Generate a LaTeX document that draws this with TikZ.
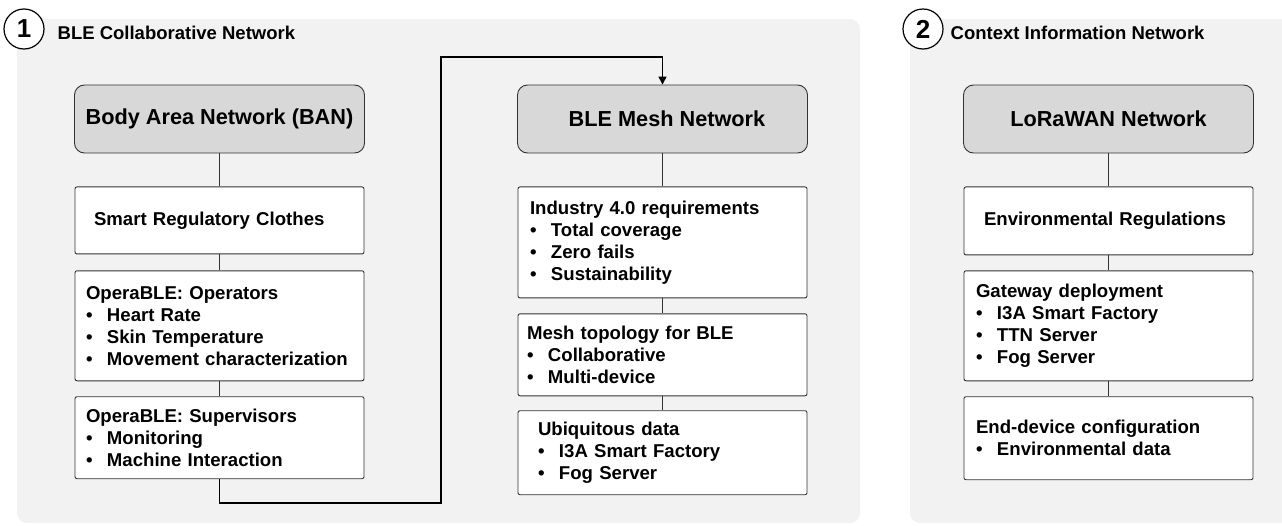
\documentclass[tikz,border=0pt]{standalone}
\usepackage{fontspec}
\setmainfont{Liberation Sans}
\usetikzlibrary{positioning,arrows.meta}
\definecolor{panelgray}{HTML}{F2F2F2}
\definecolor{headgray}{HTML}{D8D8D8}
\definecolor{linegray}{HTML}{333333}
\newcommand{\blt}[1]{\makebox[21pt][l]{\textbullet}#1}

\begin{document}
\begin{tikzpicture}[
        x=1pt, y=-1pt,
        >={Triangle[length=8pt,width=8pt]},
        line width=1.3pt,
        head/.style={draw=linegray, line width=0.9pt, fill=headgray, rounded corners=10,
            minimum width=290, minimum height=68,
            font=\fontsize{21.7}{26}\selectfont\bfseries},
        item/.style={draw=linegray, line width=0.9pt, fill=white, rounded corners=2,
            inner ysep=2, minimum height=#1, align=left,
            font=\fontsize{18.6}{22}\selectfont\bfseries},
        num/.style={circle, draw=black, line width=1.2pt, fill=white, minimum size=40,
            inner sep=0, font=\fontsize{26}{26}\selectfont\bfseries},
        title/.style={anchor=base west, inner sep=0,
            font=\fontsize{18.5}{22}\selectfont\bfseries}
        ]
        \clip (0,0) rectangle (1282,525);
        % panels
        \fill[panelgray, rounded corners=10] (17,19) rectangle (860,523);
        \fill[panelgray, rounded corners=10] (910,19) rectangle (1300,523);

        \node[num] (n1) at (24,29) {1};
        \node[title] (t1) at (57,39) {BLE Collaborative Network};
        \node[num] (n2) at (923,29) {2};
        \node[title] (t2) at (950,39) {Context Information Network};

        % BLE collaborative network, BAN side
        \node[head] (ban) at (219.5,119) {Body Area Network (BAN)};
        \node[item=67, inner xsep=19, text width=251] (smart) [below=33pt of ban]
            {Smart Regulatory Clothes};
        \node[item=110, inner xsep=11, text width=267] (ops) [below=16pt of smart]
            {OperaBLE: Operators\\ \blt{Heart Rate}\\ \blt{Skin Temperature}\\
             \blt{Movement characterization}};
        \node[item=82, inner xsep=11, text width=267] (sup) [below=15pt of ops]
            {OperaBLE: Supervisors\\ \blt{Monitoring}\\ \blt{Machine Interaction}};

        % BLE collaborative network, mesh side
        \node[head] (mesh) at (662.5,119) {\hspace*{9pt}BLE Mesh Network};
        \node[item=111, inner xsep=12, text width=265] (req) [below=33pt of mesh]
            {Industry 4.0 requirements\\ \blt{Total coverage}\\ \blt{Zero fails}\\
             \blt{Sustainability}};
        \node[item=82, inner xsep=9, text width=271] (topo) [below=15pt of req]
            {Mesh topology for BLE\\ \blt{Collaborative}\\ \blt{Multi-device}};
        \node[item=84, inner xsep=20, text width=249] (ubi) [below=14pt of topo]
            {Ubiquitous data\\ \blt{I3A Smart Factory}\\ \blt{Fog Server}};

        % context information network
        \node[head] (lora) at (1108.5,119) {LoRaWAN Network};
        \node[item=68, inner xsep=20, text width=249] (env) [below=33pt of lora]
            {Environmental Regulations};
        \node[item=110, inner xsep=12, text width=265] (gw) [below=15pt of env]
            {Gateway deployment\\ \blt{I3A Smart Factory}\\ \blt{TTN Server}\\
             \blt{Fog Server}};
        \node[item=83, inner xsep=12, text width=265] (dev) [below=15pt of gw]
            {End-device configuration\\ \blt{Environmental data}};

        \path[draw=linegray]
              (ban) edge (smart)
              (smart) edge (ops)
              (ops) edge (sup)
              (mesh) edge (req)
              (req) edge (topo)
              (topo) edge (ubi)
              (lora) edge (env)
              (env) edge (gw)
              (gw) edge (dev);

        \coordinate (low) at (441,503);
        \coordinate (high) at (441,57);
        \draw[->, draw=black] (sup.south) |- (low) -- (high) -| (mesh.north);
\end{tikzpicture}
\end{document}
